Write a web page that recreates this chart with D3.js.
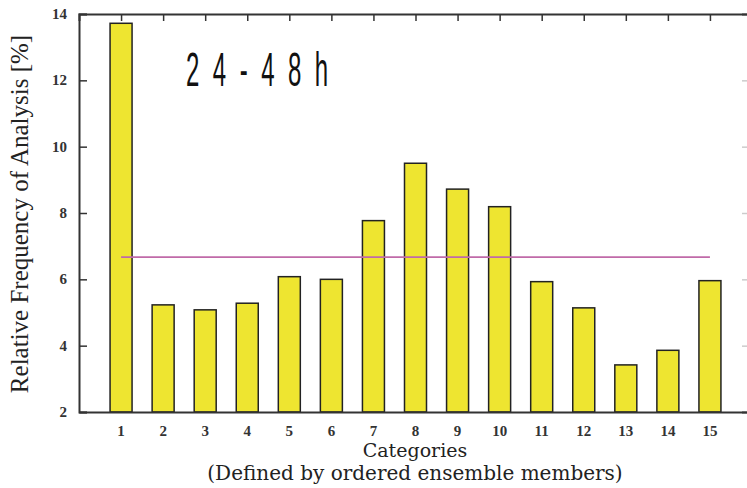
<!DOCTYPE html>
<html>
<head>
<meta charset="utf-8">
<script src="https://cdn.jsdelivr.net/npm/d3@7"></script>
<style>
  body { margin: 0; background: #fff; }
  svg { display: block; }
</style>
</head>
<body>
<div id="chart"></div>
<script>
var width = 747;
var height = 488;

// data
var categories = [1, 2, 3, 4, 5, 6, 7, 8, 9, 10, 11, 12, 13, 14, 15];
var frequency = [13.72, 5.23, 5.08, 5.28, 6.08, 6.0, 7.77, 9.5, 8.72, 8.19, 5.93, 5.14, 3.42, 3.86, 5.96];
var uniformLevel = [100 / 15];
var yTicks = [2, 4, 6, 8, 10, 12, 14];

var plotLeft = 79, plotRight = 752, plotTop = 14, plotBottom = 412;

var svg = d3.select("#chart").append("svg").attr("width", width).attr("height", height);

var x = d3.scaleLinear().domain([0, 16]).range([plotLeft, plotRight]);
var y = d3.scaleLinear().domain([2, 14]).range([plotBottom, plotTop]);
var barW = 22;

// bars
svg.selectAll("rect.bar").data(categories).enter().append("rect")
    .attr("class", "bar")
    .attr("x", function(d) { return x(d) - barW / 2; })
    .attr("y", function(d, i) { return y(frequency[i]); })
    .attr("width", barW)
    .attr("height", function(d, i) { return y(2) - y(frequency[i]); })
    .attr("fill", "#eee530")
    .attr("stroke", "#222")
    .attr("stroke-width", 1.5);

// expected uniform frequency
svg.selectAll("line.ref").data(uniformLevel).enter().append("line")
    .attr("class", "ref")
    .attr("x1", x(categories[0])).attr("x2", x(categories[categories.length - 1]))
    .attr("y1", function(d) { return y(d); }).attr("y2", function(d) { return y(d); })
    .attr("stroke", "#c06aa8").attr("stroke-width", 1.8);

// axes (ticks inward, like the original)
var tickFont = "'Liberation Serif', serif";
var yAxis = svg.append("g").attr("transform", "translate(" + plotLeft + ",0)")
    .call(d3.axisRight(y).tickValues(yTicks).tickSize(8).tickFormat(""));
var yAxisR = svg.append("g").attr("transform", "translate(" + plotRight + ",0)")
    .call(d3.axisLeft(y).tickValues(yTicks).tickSize(10).tickFormat(""));
var xAxisB = svg.append("g").attr("transform", "translate(0," + plotBottom + ")")
    .call(d3.axisTop(x).tickValues(categories).tickSize(0).tickFormat(""));
var xAxisT = svg.append("g").attr("transform", "translate(0," + plotTop + ")")
    .call(d3.axisBottom(x).tickValues(categories).tickSize(7).tickFormat(""));
[yAxis, yAxisR, xAxisB, xAxisT].forEach(function(g) {
    g.selectAll("path.domain").attr("stroke", "#333").attr("stroke-width", 2);
    g.selectAll(".tick line").attr("stroke", "#333").attr("stroke-width", 1.5);
});
yAxisR.selectAll(".tick line").attr("stroke", "#ccc");

// tick labels
svg.selectAll("text.ylab").data(yTicks).enter().append("text")
    .attr("class", "ylab")
    .attr("x", 67).attr("y", function(d) { return y(d) + 5; })
    .attr("text-anchor", "end")
    .style("font-family", tickFont).style("font-weight", "bold").style("font-size", "15px")
    .attr("fill", "#333")
    .text(function(d) { return d; });

svg.selectAll("text.xlab").data(categories).enter().append("text")
    .attr("class", "xlab")
    .attr("x", function(d) { return x(d); }).attr("y", 436)
    .attr("text-anchor", "middle")
    .style("font-family", tickFont).style("font-weight", "bold").style("font-size", "15px")
    .attr("fill", "#333")
    .text(function(d) { return d; });

// axis titles
svg.append("text")
    .attr("transform", "translate(28,214) rotate(-90)")
    .attr("text-anchor", "middle")
    .style("font-family", tickFont).style("font-size", "25px")
    .attr("fill", "#222")
    .text("Relative Frequency of Analysis [%]");

svg.append("text")
    .attr("x", 415).attr("y", 457)
    .attr("text-anchor", "middle")
    .style("font-family", "'DejaVu Serif', serif").style("font-size", "19px")
    .attr("fill", "#222")
    .text("Categories");
svg.append("text")
    .attr("x", 415).attr("y", 480)
    .attr("text-anchor", "middle")
    .style("font-family", "'DejaVu Serif', serif").style("font-size", "20px")
    .attr("fill", "#222")
    .text("(Defined by ordered ensemble members)");

// period label
svg.append("text")
    .attr("transform", "translate(186,86) scale(0.5,1)")
    .style("font-family", "'Liberation Sans', sans-serif").style("font-size", "48px")
    .style("letter-spacing", "27px")
    .attr("fill", "#111")
    .text("24-48h");
</script>
</body>
</html>
